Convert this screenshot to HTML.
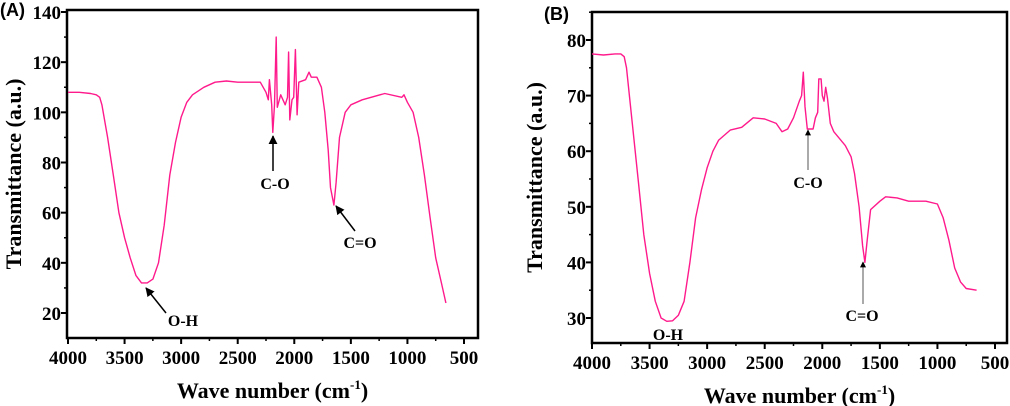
<!DOCTYPE html>
<html><head><meta charset="utf-8">
<style>
html,body{margin:0;padding:0;background:#fff;}
svg{display:block;}
text.tick{font-family:"Liberation Serif",serif;font-weight:bold;font-size:19px;fill:#000;}
text.title{font-family:"Liberation Serif",serif;font-weight:bold;font-size:22px;fill:#000;}
text.ann{font-family:"Liberation Serif",serif;font-weight:bold;font-size:16px;fill:#000;}
text.panel{font-family:"Liberation Sans",sans-serif;font-weight:bold;font-size:18px;fill:#000;}
</style></head>
<body>
<svg id="chart" width="1010" height="406" viewBox="0 0 1010 406" xmlns="http://www.w3.org/2000/svg">
<defs>
<marker id="ah" viewBox="0 0 10 10" refX="9" refY="5" markerWidth="6" markerHeight="6" orient="auto"><path d="M0,0 L10,5 L0,10 z" fill="#000"/></marker>
</defs>
</svg>
<script>
// Panel A data
const waveA = [4000,3900,3800,3750,3720,3700,3650,3600,3550,3500,3450,3400,3350,3300,3250,3200,3150,3100,3050,3000,2950,2900,2800,2700,2600,2500,2400,2300,2250,2230,2220,2200,2190,2175,2160,2150,2120,2080,2060,2050,2040,2020,2005,1990,1975,1960,1900,1870,1850,1800,1760,1730,1700,1680,1650,1630,1600,1550,1500,1400,1200,1050,1030,1000,950,900,850,800,750,700,660];
const transA = [108,108,107.5,107,106,103,90,75,60,50,42,35,32,32,33.5,40,55,75,88,98,104,107,110,112,112.5,112,112,112,108,105,113,103,92,103,130,102,107,103,106,124,97,105,106,125,99,112,113,116,114,114,110,100,85,70,63,72,90,100,103,105,107.5,106,107,104,100,90,75,58,42,32,24];
const yTicksA = [20,40,60,80,100,120,140];
// Panel B data
const waveB = [4000,3900,3800,3750,3720,3700,3650,3600,3550,3500,3450,3400,3350,3300,3250,3200,3150,3100,3050,3000,2950,2900,2800,2700,2600,2500,2400,2350,2300,2250,2200,2180,2165,2150,2130,2080,2060,2040,2030,2010,2000,1985,1970,1955,1930,1900,1800,1750,1720,1680,1650,1630,1610,1580,1500,1450,1350,1250,1100,1000,950,900,850,800,750,660];
const transB = [77.5,77.3,77.5,77.5,77,75,65,55,45,38,33,30,29.4,29.5,30.5,33,40,48,53,57,60,62,63.8,64.3,66,65.8,65,63.5,64,66,69,70,74.2,68,64,64,66,67,73,73,70,69,71.5,69.5,65,63.5,61,59,56,50,43,40,44,49.5,51,51.8,51.6,51,51,50.5,48,44,39,36.5,35.3,35];
const yTicksB = [30,40,50,60,70,80];
const xTicks = [4000,3500,3000,2500,2000,1500,1000,500];

const NS = "http://www.w3.org/2000/svg";
const svg = document.getElementById('chart');
const SERIF = '"Liberation Serif", serif';
function mk(tag, attrs, parent){
  const e = document.createElementNS(NS, tag);
  for (const k in attrs) e.setAttribute(k, attrs[k]);
  (parent||svg).appendChild(e);
  return e;
}

function drawPanel(p){
  const g = mk('g', {});
  
  
  const xs = v => p.x0 + (p.w0 - v) / (p.w0 - p.w1) * (p.x1 - p.x0);
  const ys = v => p.ya + (v - p.va) / (p.vb - p.va) * (p.yb - p.ya);
  const fr = mk('rect', {x:p.L, y:p.T, width:p.R-p.L, height:p.B-p.T, fill:'none', stroke:'#000', 'stroke-width':2.5}, g);
  
  
  xTicks.forEach(v=>{
    const x = xs(v);
    mk('line', {x1:x, x2:x, y1:p.B, y2:p.B+6, stroke:'#000', 'stroke-width':2}, g);
    const t = mk('text', {x:x, y:p.B+26, 'text-anchor':'middle', class:'tick', 'font-family':SERIF, 'font-weight':'bold', 'font-size':19}, g);
    t.textContent = v;
    
    
    if (v > 500) { const xm = xs(v-250); mk('line', {x1:xm, x2:xm, y1:p.B, y2:p.B+3, stroke:'#000', 'stroke-width':1.5}, g); }
  });
  p.yt.forEach((v,i)=>{
    const y = ys(v);
    mk('line', {x1:p.L-6, x2:p.L, y1:y, y2:y, stroke:'#000', 'stroke-width':2}, g);
    const t = mk('text', {x:p.L-6, y:y+7, 'text-anchor':'end', class:'tick', 'font-family':SERIF, 'font-weight':'bold', 'font-size':19}, g);
    t.textContent = v;
    
    
    const ym = ys(v + p.step/2);
    if (ym > p.T) mk('line', {x1:p.L-3, x2:p.L, y1:ym, y2:ym, stroke:'#000', 'stroke-width':1.5}, g);
    const yb = ys(v - p.step/2);
    if (i===0 && yb < p.B) mk('line', {x1:p.L-3, x2:p.L, y1:yb, y2:yb, stroke:'#000', 'stroke-width':1.5}, g);
  });
  const d = p.wave.map((w,i)=>(i?'L':'M')+xs(w).toFixed(1)+','+ys(p.tr[i]).toFixed(1)).join(' ');
  const path = mk('path', {d:d, fill:'none', stroke:'#ff1a8c', 'stroke-width':1.4, 'stroke-linejoin':'round'}, g);
  
  
  const xt = mk('text', {x:(p.L+p.R)/2, y:p.B+60, 'text-anchor':'middle', class:'title'}, g);
  xt.innerHTML = 'Wave number (cm<tspan dy="-9" font-size="13">-1</tspan><tspan dy="9">)</tspan>';
  
  
  const yt = mk('text', {x:0, y:0, 'text-anchor':'middle', class:'title', transform:`translate(${p.ytx},${(p.T+p.B)/2}) rotate(-90)`}, g);
  yt.textContent = 'Transmittance (a.u.)';
  
  
  const pl = mk('text', {x:p.px, y:p.py, class:'panel'}, g);
  pl.textContent = p.label;
  
  
  p.ann.forEach(a=>{
    if (a.c !== 'none') {
      const l = mk('line', {x1:a.x1, y1:a.y1, x2:a.x2, y2:a.y2, stroke:a.c, 'stroke-width':a.sw, 'marker-end':'url(#ah)'}, g);
      
      
    }
    const t = mk('text', {x:a.tx, y:a.ty, 'text-anchor':'middle', class:'ann'}, g);
    t.textContent = a.t;
    
    
  });
}

drawPanel({name:'panel-a', label:'(A)', px:0, py:16, L:67, T:10, R:478, B:338, x0:68, x1:464, w0:4000, w1:500,
  ya:313, yb:12, va:20, vb:140, step:20, yt:yTicksA, wave:waveA, tr:transA, ytx:21,
  ann:[{x1:273,y1:171,x2:273,y2:136,tx:275,ty:189,t:'C-O',c:'#000',sw:1.5},
       {x1:355,y1:231,x2:336,y2:206,tx:360,ty:248,t:'C=O',c:'#000',sw:1.5},
       {x1:166,y1:313,x2:146,y2:288,tx:183,ty:326,t:'O-H',c:'#000',sw:1.5}]});
drawPanel({name:'panel-b', label:'(B)', px:544, py:20, L:592, T:12, R:1007, B:343, x0:592, x1:995, w0:4000, w1:500,
  ya:318, yb:40, va:30, vb:80, step:10, yt:yTicksB, wave:waveB, tr:transB, ytx:542,
  ann:[{x1:808,y1:170,x2:808,y2:130,tx:808,ty:188,t:'C-O',c:'#555',sw:1},
       {x1:863,y1:304,x2:863,y2:262,tx:862,ty:321,t:'C=O',c:'#555',sw:1},
       {x1:0,y1:0,x2:0,y2:0,tx:668,ty:340,t:'O-H',c:'none',sw:0}]});
</script>
</body></html>
